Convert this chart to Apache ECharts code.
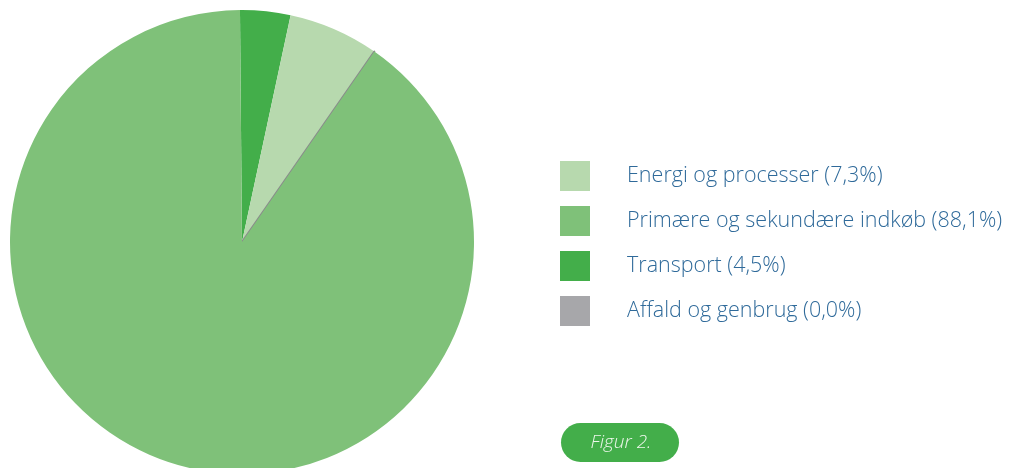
<!DOCTYPE html>
<html>
<head>
<meta charset="utf-8">
<script src="https://cdn.jsdelivr.net/npm/echarts@6/dist/echarts.min.js"></script>
<style>
  html, body { margin: 0; padding: 0; background: #fff; }
  #chart { width: 1009px; height: 468px; }
</style>
</head>
<body>
<div id="chart"></div>
<script>
// slice order clockwise from 12 o'clock
const sliceNames = ["Transport", "Energi og processer", "Affald og genbrug", "Primære og sekundære indkøb"]
const sliceValues = [3.5, 6.3, 0, 90.2]
const sliceColors = ["#43ae4a", "#b7d9ae", "#a7a7aa", "#7fc179"]

// legend order and printed labels
const legendOrder = ["Energi og processer", "Primære og sekundære indkøb", "Transport", "Affald og genbrug"]
const legendPct = {
  "Energi og processer": "7,3%",
  "Primære og sekundære indkøb": "88,1%",
  "Transport": "4,5%",
  "Affald og genbrug": "0,0%",
}

const chart = echarts.init(document.getElementById("chart"))

const data = sliceNames.map((name, i) => {
  const item = {
    name: name,
    value: sliceValues[i],
    itemStyle: { color: sliceColors[i], borderWidth: 0 },
  }
  if (sliceValues[i] === 0) {
    // zero slice still shows as a thin grey spoke
    item.itemStyle.borderColor = "#8a8a8c"
    item.itemStyle.borderWidth = 2
  }
  return item
})

const option = {
  backgroundColor: "#ffffff",
  animation: false,
  legend: {
    data: legendOrder,
    orient: "vertical",
    left: 555,
    top: 156,
    icon: "rect",
    itemWidth: 30,
    itemHeight: 30,
    itemGap: 15,
    selectedMode: false,
    itemStyle: { borderWidth: 0 },
    formatter: (name) => `${name} (${legendPct[name]})`,
    textStyle: {
      color: "#2f6a9a",
      fontFamily: "Open Sans",
      fontSize: 21.5,
      fontWeight: 300,
      padding: [0, 0, 0, 32],
    },
  },
  series: [
    {
      type: "pie",
      center: [242, 242],
      radius: 232,
      startAngle: 90.5,
      clockwise: true,
      label: { show: false },
      labelLine: { show: false },
      emphasis: { disabled: true },
      silent: true,
      data: data,
    },
  ],
  graphic: [
    {
      type: "group",
      left: 561,
      top: 423,
      children: [
        {
          type: "rect",
          shape: { x: 0, y: 0, width: 118, height: 39, r: 19.5 },
          style: { fill: "#43ae4a" },
        },
        {
          type: "text",
          x: 60,
          y: 20,
          style: {
            text: "Figur 2.",
            fill: "#eef7ec",
            font: "italic 300 19px 'Open Sans'",
            align: "center",
            verticalAlign: "middle",
          },
        },
      ],
    },
  ],
}

chart.setOption(option)
</script>
</body>
</html>
